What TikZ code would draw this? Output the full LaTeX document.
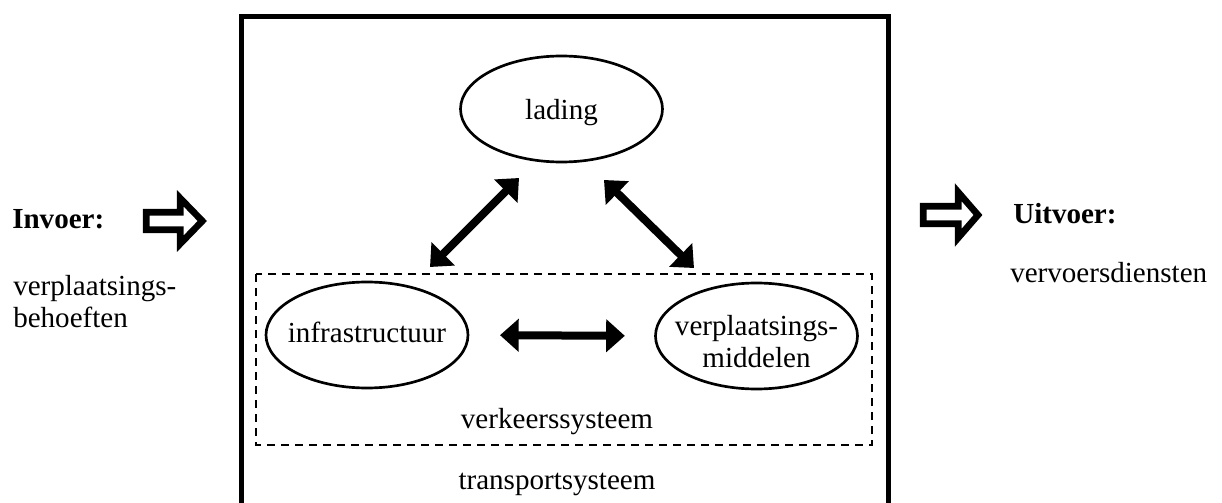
\documentclass[tikz,border=0pt]{standalone}
\usepackage{fontspec}
\setmainfont{Liberation Serif}
\usetikzlibrary{shapes.geometric,arrows.meta}
\newcommand\diagfont{\fontsize{21.8}{24.5}\selectfont}
\begin{document}
\begin{tikzpicture}[x=0.75pt,y=-0.75pt,
  every node/.style={inner sep=0pt, font=\diagfont},
  oval/.style={ellipse, draw, line width=2pt, minimum width=151.5pt, minimum height=79.5pt},
  dbl/.style={line width=6pt, {Triangle[length=14pt,width=24pt]}-{Triangle[length=14pt,width=24pt]}},
  blockarrow/.style={draw, line width=5pt, line join=miter, miter limit=10},
  outerbox/.style={line width=3.75pt},
  innerbox/.style={draw, line width=1.5pt, dash pattern=on 6pt off 4.5pt},
  lbl/.style={anchor=base west},
  ctr/.style={anchor=base}]
\useasboundingbox (0,0) rectangle (1222,503);

% outer transport system box (open at bottom)
\draw[outerbox] (241.5,503) -- (241.5,16.5) -- (888,16.5) -- (888,503);
% dashed traffic system box
\draw[innerbox] (256,274) rectangle (872,445);

% ellipses
\node[oval] (lading) at (561.5,109) {};
\node[oval] (infra) at (367,335) {};
\node[oval] (middelen) at (756.5,336) {};
\node[ctr] (tlading) at (561.5,119) {lading};
\node[ctr] (tinfra) at (367,342) {infrastructuur};
\node[ctr] (tmiddelen) at (756.5,335) {\begin{tabular}[t]{@{}c@{}}verplaatsings-\\middelen\end{tabular}};

% system labels
\node[ctr] (verkeer) at (557,428) {verkeerssysteem};
\node[ctr] (transport) at (557,489) {transportsysteem};

% connectors
\coordinate (a1) at (430,267);
\coordinate (a2) at (519,178);
\coordinate (b1) at (604,180);
\coordinate (b2) at (694,268);
\draw[dbl] (a1) -- (a2);
\draw[dbl] (b1) -- (b2);
\draw[dbl, shorten <=23pt, shorten >=22pt] (infra.east) -- (middelen.west);

% input
\node[lbl, font=\diagfont\bfseries] (invoer) at (12,228) {Invoer:};
\node[lbl] (behoeften) at (13,295) {\begin{tabular}[t]{@{}l@{}}verplaatsings-\\behoeften\end{tabular}};
\draw[blockarrow] (146.3,212.3) -- (180.3,212.3) -- (180.3,198.3) -- (202.3,221) -- (180.3,243.7) -- (180.3,229.7) -- (146.3,229.7) -- cycle;

% output
\draw[blockarrow] (923.3,206.3) -- (958.3,206.3) -- (958.3,192.3) -- (978,215) -- (958.3,237.7) -- (958.3,223.7) -- (923.3,223.7) -- cycle;
\node[lbl, font=\diagfont\bfseries] (uitvoer) at (1013,223) {Uitvoer:};
\node[lbl] (diensten) at (1010,282) {vervoersdiensten};
\end{tikzpicture}
\end{document}
